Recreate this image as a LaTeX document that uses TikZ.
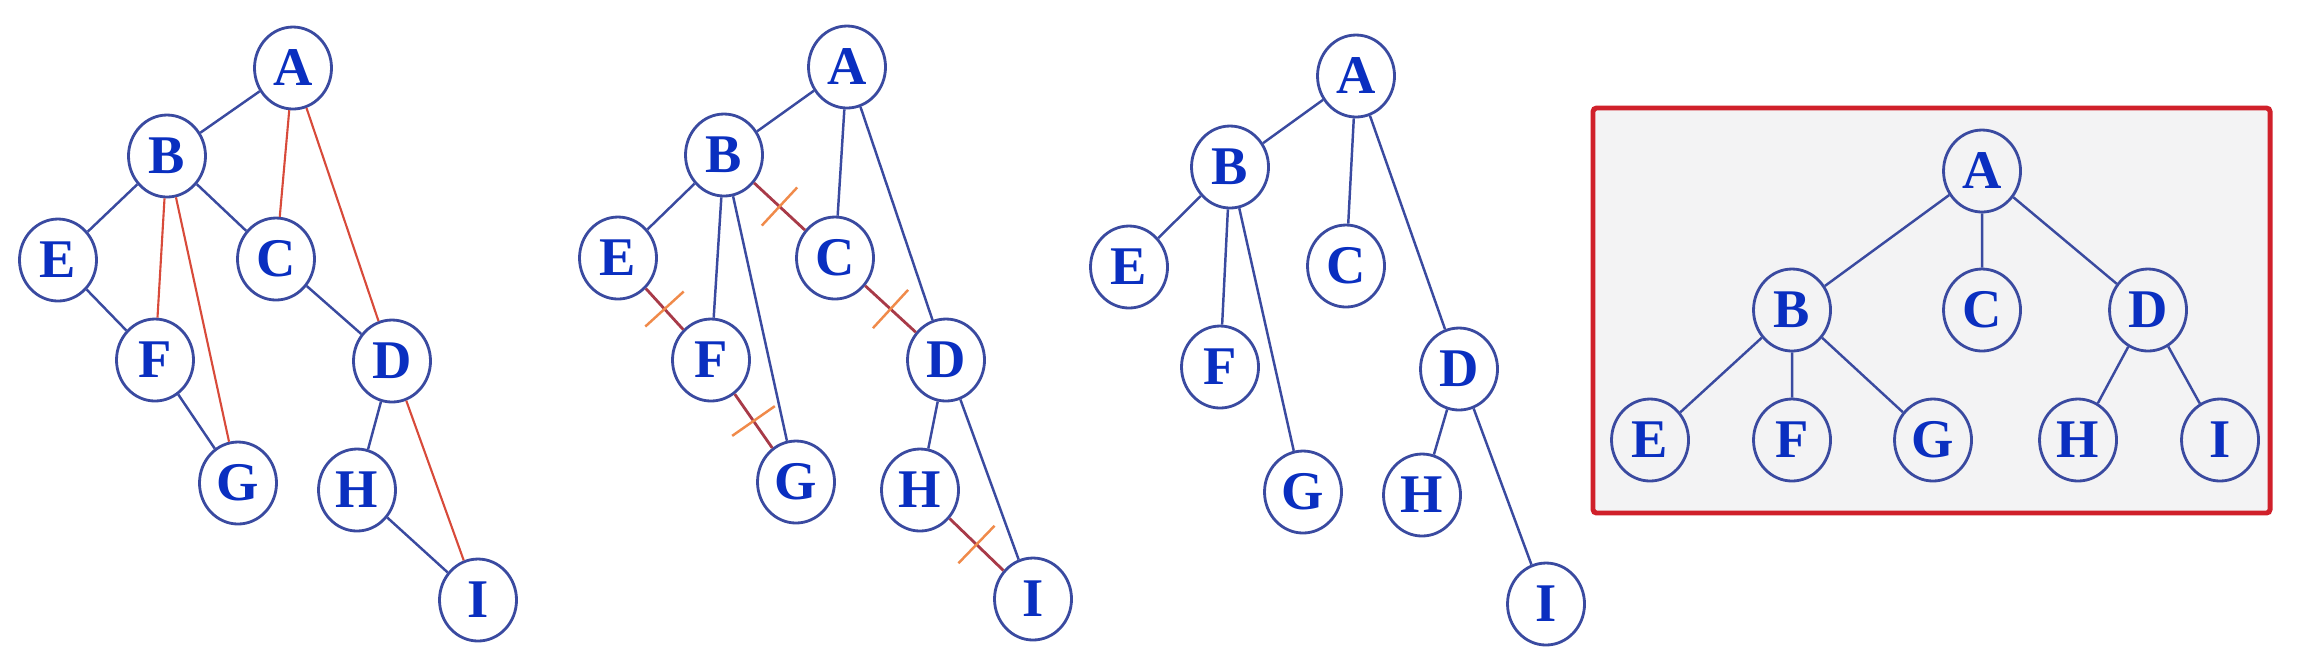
\documentclass[tikz,border=0pt]{standalone}
\usepackage{fontspec}
\setmainfont{Liberation Serif}
\usetikzlibrary{shapes.geometric,decorations.markings}

\definecolor{nodeblue}{HTML}{0A2FC0}
\definecolor{edgeblue}{HTML}{3A4AA0}
\definecolor{backred}{HTML}{D84A3A}
\definecolor{cutred}{HTML}{A83A48}
\definecolor{cutorange}{HTML}{F08A4A}
\definecolor{boxgray}{HTML}{F3F3F4}
\definecolor{boxred}{HTML}{D0202A}

\tikzset{
  vtx/.style={ellipse, draw=edgeblue, line width=0.8pt, inner sep=0pt,
    minimum width=0.77cm, minimum height=0.82cm, text=nodeblue,
    font=\bfseries\fontsize{15.5}{15.5}\selectfont},
  tree/.style={draw=edgeblue, line width=0.7pt},
  back/.style={draw=backred, line width=0.6pt},
  cut/.style={draw=cutred, line width=0.8pt, postaction={decorate},
    decoration={markings, mark=at position 0.5 with
      {\draw[cutorange, line width=0.7pt] (0,-0.26) -- (0,0.26);}}}
}

\begin{document}
\begin{tikzpicture}
  \fill[white] (0,0) rectangle (23.22,-6.54);
  \useasboundingbox (0,0) rectangle (23.22,-6.54);

  % Graph with back edges
  \node[vtx] (a1) at (2.93,-0.68) {A};
  \node[vtx] (b1) at (1.67,-1.56) {B};
  \node[vtx] (e1) at (0.58,-2.60) {E};
  \node[vtx] (c1) at (2.76,-2.59) {C};
  \node[vtx] (f1) at (1.55,-3.60) {F};
  \node[vtx] (d1) at (3.92,-3.61) {D};
  \node[vtx] (g1) at (2.38,-4.83) {G};
  \node[vtx] (h1) at (3.57,-4.90) {H};
  \node[vtx] (i1) at (4.78,-6.00) {I};
  \draw[tree] (a1) -- (b1) (b1) -- (e1) (b1) -- (c1) (e1) -- (f1)
    (c1) -- (d1) (f1) -- (g1) (d1) -- (h1) (h1) -- (i1);
  \draw[back] (a1) -- (c1) (a1) -- (d1) (b1) -- (f1) (b1) -- (g1) (d1) -- (i1);

  % Cutting the sibling links
  \node[vtx] (a2) at (8.47,-0.67) {A};
  \node[vtx] (b2) at (7.24,-1.55) {B};
  \node[vtx] (e2) at (6.18,-2.58) {E};
  \node[vtx] (c2) at (8.35,-2.58) {C};
  \node[vtx] (f2) at (7.11,-3.60) {F};
  \node[vtx] (d2) at (9.46,-3.60) {D};
  \node[vtx] (g2) at (7.96,-4.82) {G};
  \node[vtx] (h2) at (9.20,-4.90) {H};
  \node[vtx] (i2) at (10.33,-5.99) {I};
  \draw[tree] (a2) -- (b2) (a2) -- (c2) (a2) -- (d2) (b2) -- (e2)
    (b2) -- (f2) (b2) -- (g2) (d2) -- (h2) (d2) -- (i2);
  \draw[cut] (b2) -- (c2);
  \draw[cut] (e2) -- (f2);
  \draw[cut] (c2) -- (d2);
  \draw[cut] (f2) -- (g2);
  \draw[cut] (h2) -- (i2);

  % Result
  \begin{scope}[every node/.append style={minimum width=0.82cm, minimum height=0.83cm}]
    \node[vtx] (a3) at (13.56,-0.76) {A};
    \node[vtx] (b3) at (12.30,-1.67) {B};
    \node[vtx] (e3) at (11.29,-2.67) {E};
    \node[vtx] (c3) at (13.46,-2.66) {C};
    \node[vtx] (f3) at (12.20,-3.67) {F};
    \node[vtx] (d3) at (14.59,-3.69) {D};
    \node[vtx] (g3) at (13.03,-4.92) {G};
    \node[vtx] (h3) at (14.22,-4.95) {H};
    \node[vtx] (i3) at (15.46,-6.04) {I};
  \end{scope}
  \draw[tree] (a3) -- (b3) (a3) -- (c3) (a3) -- (d3) (b3) -- (e3)
    (b3) -- (f3) (b3) -- (g3) (d3) -- (h3) (d3) -- (i3);

  % Tree, redrawn
  \draw[boxred, fill=boxgray, line width=1.4pt, rounded corners=1pt]
    (15.93,-1.08) rectangle (22.70,-5.13);
  \begin{scope}[every node/.append style={minimum width=0.80cm, minimum height=0.88cm}]
    \node[vtx] (a4) at (19.82,-1.71) {A};
    \node[vtx] (b4) at (17.92,-3.10) {B};
    \node[vtx] (c4) at (19.82,-3.10) {C};
    \node[vtx] (d4) at (21.48,-3.10) {D};
    \node[vtx] (e4) at (16.50,-4.40) {E};
    \node[vtx] (f4) at (17.92,-4.40) {F};
    \node[vtx] (g4) at (19.33,-4.40) {G};
    \node[vtx] (h4) at (20.78,-4.40) {H};
    \node[vtx] (i4) at (22.20,-4.40) {I};
  \end{scope}
  \draw[tree] (a4) -- (b4) (a4) -- (c4) (a4) -- (d4) (b4) -- (e4)
    (b4) -- (f4) (b4) -- (g4) (d4) -- (h4) (d4) -- (i4);
\end{tikzpicture}
\end{document}
